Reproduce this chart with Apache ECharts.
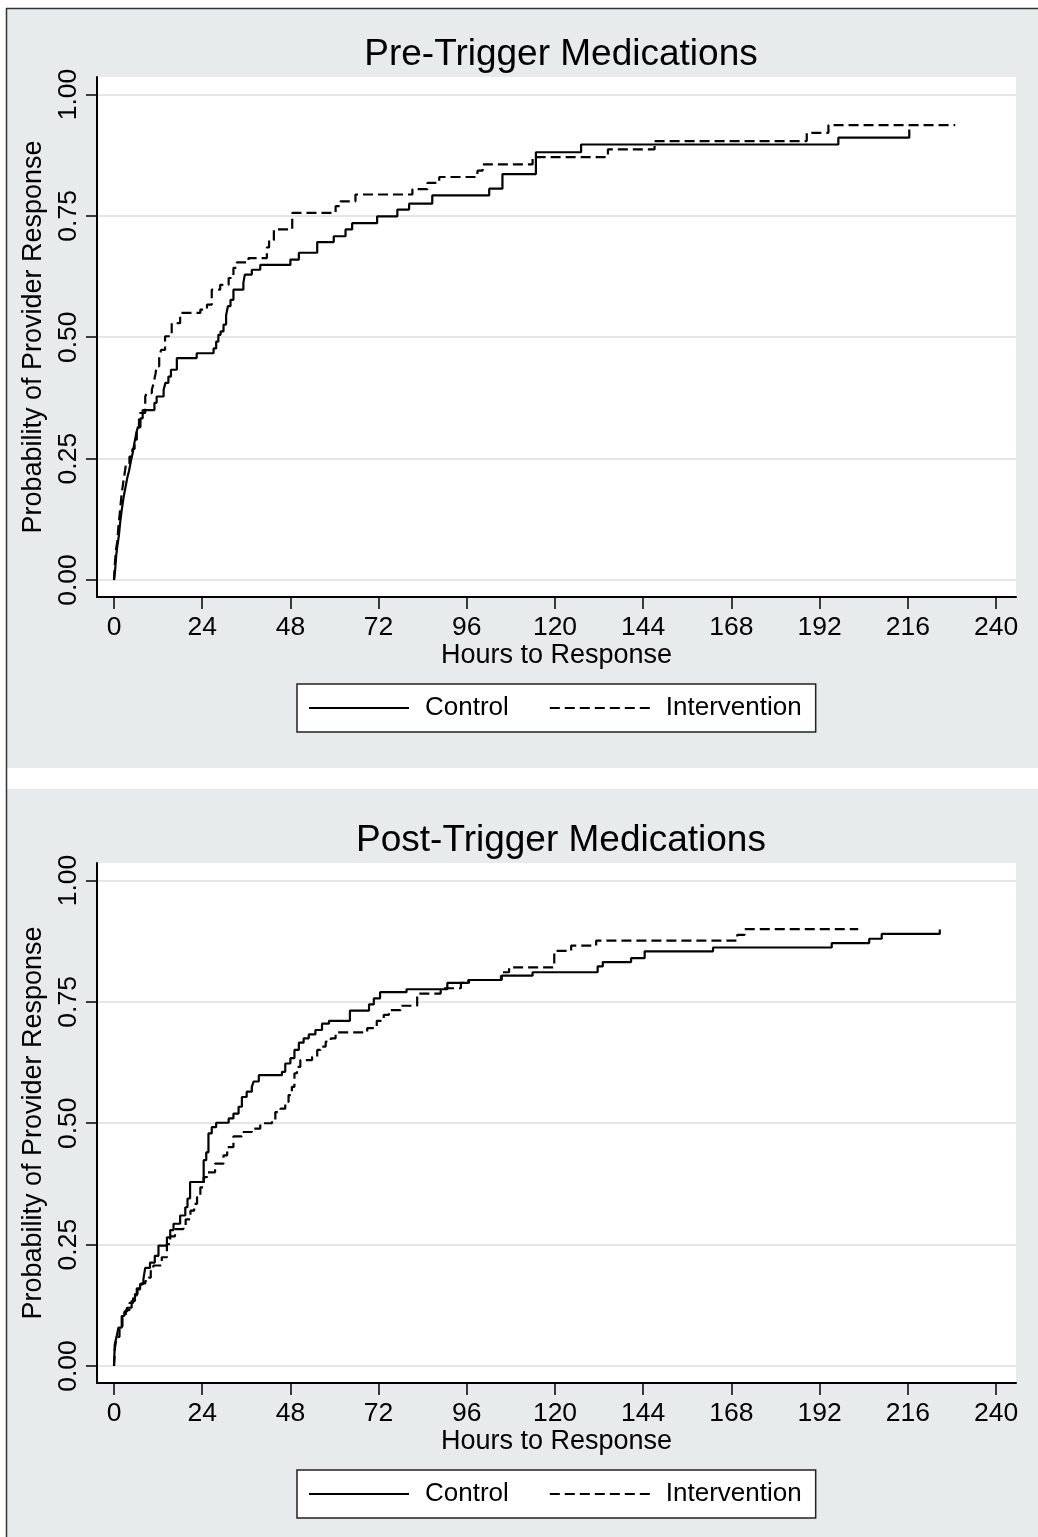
<!DOCTYPE html>
<html>
<head>
<meta charset="utf-8">
<style>
  html, body { margin: 0; padding: 0; background: #ffffff; }
  #chart { width: 1038px; height: 1537px; }
</style>
<script src="https://cdn.jsdelivr.net/npm/echarts@6/dist/echarts.min.js"></script>
</head>
<body>
<div id="chart"></div>
<script>
// ---------- data ----------
const panelTitles = ['Pre-Trigger Medications', 'Post-Trigger Medications'];
const seriesNames = ['Control', 'Intervention'];
const xAxisTitle = 'Hours to Response';
const yAxisTitle = 'Probability of Provider Response';
const hourTicks = [0, 24, 48, 72, 96, 120, 144, 168, 192, 216, 240];
const probTicks = [0, 0.25, 0.5, 0.75, 1];

const preControlHours = [0, 0.3, 0.6, 0.9, 1.3, 1.7, 2.1, 2.6, 3.1, 3.6, 4.1, 4.6, 5.1, 5.5, 6.0, 6.5, 7.2, 7.8, 11.0, 11.6, 13.5, 14.0, 14.8, 15.5, 17.1, 22.5, 27.1, 27.8, 28.4, 29.0, 29.8, 30.5, 31.0, 31.7, 32.5, 35.2, 35.6, 37.5, 39.8, 48.0, 50.3, 55.3, 59.8, 63.0, 64.8, 71.6, 77.1, 80.3, 86.6, 102.1, 105.7, 114.8, 127.1, 197.1, 216.4];
const preControlProb = [0, 0.02, 0.05, 0.07, 0.09, 0.12, 0.144, 0.17, 0.19, 0.21, 0.225, 0.245, 0.262, 0.28, 0.30, 0.315, 0.333, 0.35, 0.365, 0.378, 0.392, 0.406, 0.419, 0.433, 0.457, 0.467, 0.477, 0.491, 0.505, 0.512, 0.526, 0.545, 0.564, 0.577, 0.598, 0.612, 0.629, 0.639, 0.649, 0.66, 0.674, 0.696, 0.708, 0.722, 0.735, 0.749, 0.763, 0.775, 0.792, 0.806, 0.836, 0.881, 0.897, 0.911, 0.928];

const preInterventionHours = [0, 0.2, 0.5, 0.9, 1.2, 1.6, 2.0, 2.5, 3.0, 3.3, 4.2, 5.0, 5.6, 6.2, 6.8, 7.1, 8.5, 8.9, 10.3, 10.8, 11.3, 11.6, 12.3, 12.8, 13.9, 15.7, 18.0, 23.5, 25.3, 26.6, 28.9, 31.2, 32.5, 33.4, 36.6, 41.6, 42.2, 43.5, 48.5, 60.3, 61.6, 65.7, 81.2, 85.3, 88.5, 98.9, 100.3, 113.9, 134.4, 147.1, 188.5, 194.4, 228.9];
const preInterventionProb = [0, 0.03, 0.06, 0.08, 0.11, 0.14, 0.172, 0.20, 0.225, 0.241, 0.254, 0.27, 0.289, 0.309, 0.33, 0.344, 0.378, 0.385, 0.392, 0.406, 0.425, 0.44, 0.457, 0.474, 0.502, 0.529, 0.55, 0.557, 0.567, 0.598, 0.608, 0.622, 0.643, 0.654, 0.663, 0.685, 0.70, 0.722, 0.756, 0.77, 0.78, 0.794, 0.805, 0.818, 0.83, 0.843, 0.856, 0.871, 0.887, 0.904, 0.921, 0.937, 0.937];

const postControlHours = [0, 0.2, 0.7, 1.2, 2.1, 2.8, 3.5, 4.8, 5.7, 6.4, 7.1, 8.0, 8.5, 9.8, 11.1, 12.1, 14.4, 15.3, 16.2, 18.0, 19.4, 20.0, 20.7, 24.4, 25.1, 25.7, 26.6, 27.8, 31.2, 32.5, 33.9, 34.8, 36.1, 37.5, 38.0, 39.4, 45.7, 46.6, 48.0, 49.1, 50.3, 51.6, 53.0, 54.8, 56.6, 58.5, 64.2, 69.4, 70.7, 72.4, 79.6, 90.7, 96.4, 105.5, 113.9, 131.6, 133.0, 140.7, 144.4, 163.0, 195.3, 205.5, 208.9, 224.7];
const postControlProb = [0, 0.045, 0.06, 0.079, 0.103, 0.112, 0.12, 0.134, 0.148, 0.158, 0.169, 0.179, 0.202, 0.213, 0.227, 0.248, 0.265, 0.28, 0.293, 0.31, 0.327, 0.345, 0.379, 0.424, 0.44, 0.479, 0.492, 0.501, 0.51, 0.52, 0.534, 0.554, 0.565, 0.575, 0.586, 0.599, 0.606, 0.623, 0.634, 0.651, 0.666, 0.675, 0.683, 0.692, 0.705, 0.711, 0.732, 0.745, 0.757, 0.770, 0.776, 0.789, 0.795, 0.804, 0.811, 0.823, 0.832, 0.840, 0.854, 0.862, 0.871, 0.880, 0.890, 0.899];

const postInterventionHours = [0, 0.3, 0.8, 1.5, 2.3, 3.2, 4.2, 5.2, 6.2, 7.5, 8.5, 9.4, 10.0, 10.7, 13.0, 14.4, 15.3, 16.6, 18.9, 19.5, 20.8, 21.8, 22.6, 23.5, 24.4, 25.3, 27.5, 29.8, 30.8, 32.5, 34.8, 37.5, 39.8, 43.0, 43.9, 45.3, 46.6, 47.5, 48.4, 49.1, 49.8, 50.7, 53.9, 55.3, 56.2, 57.6, 59.0, 60.3, 68.9, 71.5, 73.4, 74.8, 78.0, 82.5, 88.9, 94.4, 96.6, 105.3, 107.5, 119.8, 124.4, 131.2, 169.6, 171.6, 202.5];
const postInterventionProb = [0, 0.04, 0.06, 0.08, 0.10, 0.115, 0.13, 0.145, 0.16, 0.17, 0.175, 0.182, 0.196, 0.207, 0.224, 0.251, 0.267, 0.282, 0.289, 0.302, 0.32, 0.334, 0.348, 0.368, 0.389, 0.399, 0.417, 0.434, 0.451, 0.473, 0.482, 0.489, 0.50, 0.506, 0.523, 0.53, 0.544, 0.558, 0.575, 0.603, 0.616, 0.630, 0.637, 0.651, 0.658, 0.668, 0.675, 0.687, 0.696, 0.711, 0.723, 0.733, 0.742, 0.767, 0.778, 0.789, 0.795, 0.811, 0.821, 0.855, 0.866, 0.876, 0.888, 0.900, 0.900];

// ---------- styling / layout ----------
const FONT = "'Liberation Sans', Arial, Helvetica, sans-serif";
const GRAY = '#e8ebec';
const GRID_COLOR = '#dadfe1';
const PANEL_SHIFT = 786;
const X_MIN = -4.626, X_MAX = 245.44;
const Y_MIN = -0.035, Y_MAX = 1.036;

function zip(xs, ys) { return xs.map((x, i) => [x, ys[i]]); }

function makeX(gi) {
  return {
    type: 'value', gridIndex: gi, min: X_MIN, max: X_MAX,
    axisLine: { show: true, onZero: false, lineStyle: { color: '#000', width: 2 } },
    axisTick: { show: true, length: 12, customValues: hourTicks, lineStyle: { color: '#000', width: 1.5 } },
    axisLabel: { customValues: hourTicks, fontSize: 26.5, color: '#000', fontFamily: FONT, margin: 17 },
    splitLine: { show: false },
    name: xAxisTitle, nameLocation: 'middle', nameGap: 41,
    nameTextStyle: { fontSize: 27, color: '#000', fontFamily: FONT }
  };
}
function makeY(gi) {
  return {
    type: 'value', gridIndex: gi, min: Y_MIN, max: Y_MAX,
    axisLine: { show: true, onZero: false, lineStyle: { color: '#000', width: 2 } },
    axisTick: { show: true, length: 11, customValues: probTicks, lineStyle: { color: '#000', width: 1.5 } },
    axisLabel: { customValues: probTicks, rotate: 90, fontSize: 26.5, color: '#000', fontFamily: FONT, margin: 15,
                 formatter: v => Number(v).toFixed(2) },
    splitLine: { show: true, lineStyle: { color: GRID_COLOR, width: 1.5 } },
    name: yAxisTitle, nameLocation: 'middle', nameGap: 45,
    nameTextStyle: { fontSize: 27, color: '#000', fontFamily: FONT }
  };
}
function makeSeries(name, data, gi, dashed) {
  return {
    type: 'line', name: name, xAxisIndex: gi, yAxisIndex: gi, data: data,
    step: 'end', symbol: 'none', showSymbol: false, animation: false, z: 3,
    lineStyle: { color: '#000', width: 2.2, type: dashed ? [10, 5] : 'solid' },
    itemStyle: { color: '#000' }
  };
}
function makeLegend(top) {
  return {
    data: seriesNames, left: 297, top: top, orient: 'horizontal',
    itemWidth: 100, itemHeight: 14, itemGap: 40, padding: [11, 14, 11, 11],
    backgroundColor: '#fff', borderColor: '#222', borderWidth: 1.5, borderRadius: 0,
    selectedMode: false, itemStyle: { opacity: 0 },
    textStyle: { fontSize: 26, color: '#000', fontFamily: FONT, padding: [0, 0, 0, 11] }
  };
}
function makeTitle(text, top) {
  return { text: text, left: 556, top: top, textAlign: 'center',
           textStyle: { fontSize: 37, fontWeight: 'normal', color: '#000', fontFamily: FONT } };
}

const chart = echarts.init(document.getElementById('chart'), null, { renderer: 'canvas' });
chart.setOption({
  backgroundColor: '#ffffff',
  animation: false,
  textStyle: { fontFamily: FONT },
  title: [makeTitle(panelTitles[0], 31), makeTitle(panelTitles[1], 31 + PANEL_SHIFT)],
  legend: [makeLegend(684), makeLegend(684 + PANEL_SHIFT)],
  graphic: [
    { type: 'rect', z: -10, silent: true, shape: { x: 6, y: 8, width: 1032, height: 760 }, style: { fill: GRAY } },
    { type: 'rect', z: -10, silent: true, shape: { x: 6, y: 789, width: 1032, height: 748 }, style: { fill: GRAY } },
    { type: 'line', z: -9, silent: true, shape: { x1: 6.5, y1: 8, x2: 6.5, y2: 1537 }, style: { stroke: '#333', lineWidth: 1.5 } },
    { type: 'line', z: -9, silent: true, shape: { x1: 6, y1: 8.5, x2: 1038, y2: 8.5 }, style: { stroke: '#333', lineWidth: 1.5 } }
  ],
  grid: [
    { left: 97, top: 77, width: 919, height: 520, show: true, backgroundColor: '#ffffff', borderWidth: 0 },
    { left: 97, top: 77 + PANEL_SHIFT, width: 919, height: 520, show: true, backgroundColor: '#ffffff', borderWidth: 0 }
  ],
  xAxis: [makeX(0), makeX(1)],
  yAxis: [makeY(0), makeY(1)],
  series: [
    makeSeries(seriesNames[0], zip(preControlHours, preControlProb), 0, false),
    makeSeries(seriesNames[1], zip(preInterventionHours, preInterventionProb), 0, true),
    makeSeries(seriesNames[0], zip(postControlHours, postControlProb), 1, false),
    makeSeries(seriesNames[1], zip(postInterventionHours, postInterventionProb), 1, true)
  ]
});
</script>
</body>
</html>
